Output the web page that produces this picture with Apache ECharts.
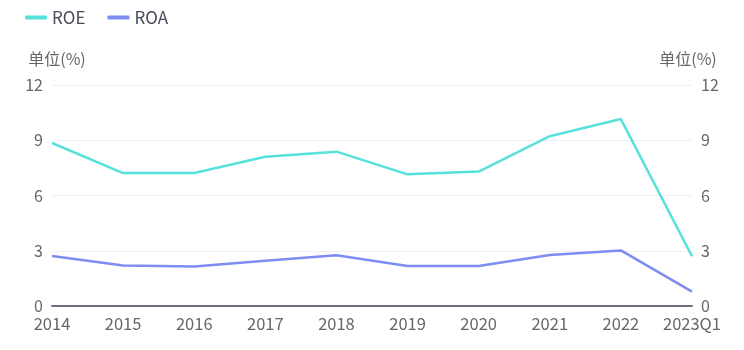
<!DOCTYPE html>
<html><head><meta charset="utf-8">
<script src="https://cdn.jsdelivr.net/npm/echarts@6/dist/echarts.min.js"></script>
<style>html,body{margin:0;padding:0;background:#fff}#c{width:744px;height:350px}</style>
</head><body><div id="c"></div>
<script>
const categories = ['2014','2015','2016','2017','2018','2019','2020','2021','2022','2023Q1'];
const roe = [8.85, 7.22, 7.22, 8.1, 8.38, 7.15, 7.3, 9.22, 10.15, 2.7];
const roa = [2.71, 2.2, 2.15, 2.46, 2.75, 2.17, 2.17, 2.77, 3.02, 0.78];
const yTicks = [0, 3, 6, 9, 12];
const chart = echarts.init(document.getElementById('c'));
const font = '"Noto Sans CJK SC", sans-serif';
const yCommon = {
  type: 'value', min: 0, max: 12, interval: 3,
  name: '单位(%)',
  nameGap: 18,
  nameTextStyle: {color: '#666', fontSize: 16, fontFamily: font},
  axisLine: {show: false}, axisTick: {show: false},
  axisLabel: {color: '#666', fontSize: 16, fontFamily: font, margin: 9},
  splitLine: {lineStyle: {color: '#eef0f6'}}
};
chart.setOption({
  animation: false,
  legend: {
    left: 20, top: 4, itemWidth: 22, itemHeight: 4, itemGap: 22,
    icon: 'roundRect',
    textStyle: {color: '#4a4a58', fontSize: 17, fontFamily: font},
    data: ['ROE', 'ROA']
  },
  grid: {left: 52, right: 52, top: 85, bottom: 44},
  xAxis: {
    type: 'category', data: categories, boundaryGap: false,
    axisLine: {lineStyle: {color: '#6e6e80', width: 2}},
    axisTick: {show: false},
    axisLabel: {color: '#666', fontSize: 16.5, fontFamily: font, margin: 9, interval: 0}
  },
  yAxis: [
    Object.assign({}, yCommon, {position: 'left', nameTextStyle: Object.assign({}, yCommon.nameTextStyle, {align: 'center', padding: [0, 0, 0, 10]})}),
    Object.assign({}, yCommon, {position: 'right', nameTextStyle: Object.assign({}, yCommon.nameTextStyle, {align: 'center', padding: [0, 0, 0, -8]})})
  ],
  series: [
    {name: 'ROE', type: 'line', data: roe, symbol: 'none', lineStyle: {width: 2.5}, color: '#56e2da'},
    {name: 'ROA', type: 'line', data: roa, symbol: 'none', lineStyle: {width: 2.5}, color: '#7d8df2'}
  ]
});
</script></body></html>
